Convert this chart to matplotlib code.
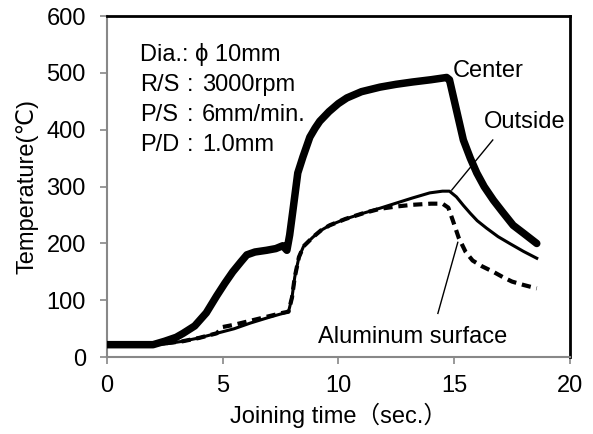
"""Joining temperature history: center / outside / aluminum surface"""
import matplotlib
matplotlib.use("Agg")
import matplotlib.pyplot as plt

FONTS = ["Liberation Sans", "DejaVu Sans", "Noto Sans CJK JP"]
plt.rcParams["font.family"] = FONTS

# values
center_t = [0, 1, 2, 2.5, 3, 3.3, 3.8, 4.3, 4.75, 5.1, 5.44, 5.8, 6.05, 6.4, 6.9, 7.3,
            7.6, 7.78, 7.9, 8.03, 8.25, 8.47, 8.77, 9.0, 9.2, 9.6, 10.0, 10.37, 11.0,
            11.8, 12.5, 13.2, 14.0, 14.68, 14.8, 15.1, 15.4, 15.7, 15.98, 16.3, 16.7,
            17.1, 17.55, 18.0, 18.57]
center_T = [22, 22, 22, 28, 35, 42, 55, 78, 108, 130, 150, 168, 180, 185, 188, 191,
            196, 188, 215, 255, 324, 352, 387, 403, 415, 432, 446, 456, 467,
            475, 480, 484, 488, 492, 488, 435, 382, 350, 324, 300, 276,
            255, 232, 218, 200]

outside_t = [0, 1, 2, 2.5, 3.28, 4.0, 4.75, 5.5, 6.2, 7.0, 7.6, 7.85, 8.0, 8.12, 8.3,
             8.5, 8.9, 9.25, 9.63, 10.3, 11.06, 11.8, 12.5, 13.2, 13.95, 14.5, 14.8,
             15.1, 15.4, 15.7, 16.0, 16.4, 16.9, 17.4, 18.0, 18.57]
outside_T = [22, 22, 22, 23, 28, 34, 42, 50, 60, 70, 77, 80, 105, 141, 176,
             195, 211, 223, 232, 243, 253, 262, 271, 280, 289, 292, 292,
             282, 267, 253, 240, 227, 212, 200, 186, 174]

alu_t = [0, 2, 3.28, 4.0, 4.75, 5.0, 5.5, 6.2, 7.0, 7.6, 7.85, 8.0, 8.12, 8.3, 8.5,
         8.9, 9.25, 9.63, 10.3, 11.06, 11.8, 12.5, 13.2, 14.0, 14.5, 14.75, 14.95,
         15.2, 15.5, 15.8, 16.2, 16.7, 17.1, 17.5, 18.0, 18.57]
alu_T = [22, 22, 28, 34, 42, 53, 57, 64, 72, 78, 80, 105, 141, 176, 195,
         211, 223, 232, 243, 253, 261, 265, 268, 270, 270, 263, 240,
         210, 185, 170, 160, 150, 141, 133, 127, 121]

cond_head = "Dia.: ϕ 10mm"
cond_keys = ["R/S", "P/S", "P/D"]
cond_vals = ["3000rpm", "6mm/min.", "1.0mm"]

fig = plt.figure(figsize=(5.93, 4.34), dpi=100)
ax = fig.add_axes([0.180, 0.177, 0.781, 0.786])

ax.plot(alu_t, alu_T, color="black", lw=3.0, ls=(0, (2.2, 1.4)), zorder=2)
ax.plot(outside_t, outside_T, color="black", lw=2.2, zorder=3)
ax.plot(center_t, center_T, color="black", lw=5.4, solid_capstyle="round",
        solid_joinstyle="round", zorder=4)

ax.set_xlim(0, 20)
ax.set_ylim(0, 600)
ax.set_xticks([0, 5, 10, 15, 20])
ax.set_yticks(range(0, 601, 100))

for s in ("left", "bottom"):
    ax.spines[s].set_color("#888888")
    ax.spines[s].set_linewidth(1.5)
for s in ("top", "right"):
    ax.spines[s].set_color("black")
    ax.spines[s].set_linewidth(2.0)
ax.tick_params(axis="both", direction="out", color="#888888", width=1.2,
               labelsize=17, length=5)
ax.tick_params(axis="x", pad=8)
ax.tick_params(axis="y", pad=10)

ax.set_xlabel("Joining time（sec.）", fontsize=17, labelpad=4)
ax.set_ylabel("Temperature(℃)", fontsize=17, labelpad=6)

# condition block, tab-aligned like the original
ax.text(1.43, 532, cond_head, fontsize=17, va="center", ha="left")
for i, (k, v) in enumerate(zip(cond_keys, cond_vals)):
    yy = 479 - 53 * i
    ax.text(1.43, yy, k, fontsize=17, va="center", ha="left")
    ax.text(3.59, yy, ":", fontsize=17, va="center", ha="center")
    ax.text(4.12, yy, v, fontsize=17, va="center", ha="left")

ax.text(14.95, 503, "Center", fontsize=17, va="center", ha="left")
ax.text(16.29, 414, "Outside", fontsize=17, va="center", ha="left")
ax.text(9.11, 35, "Aluminum surface", fontsize=17, va="center", ha="left")
ax.plot([16.67, 14.9], [382, 294], color="black", lw=1.0)
ax.plot([15.16, 14.3], [202, 77], color="black", lw=1.0)

fig.savefig("out.png", dpi=100)
